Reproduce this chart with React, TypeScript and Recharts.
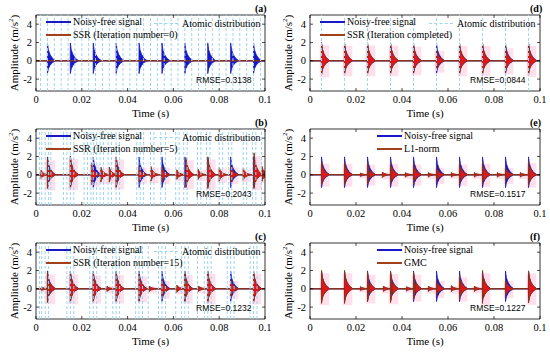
import React from 'react';
import { ComposedChart, Area, XAxis, YAxis, ReferenceLine, ReferenceArea } from 'recharts';

// ---------- axes ----------
const X_TICKS = [0, 0.02, 0.04, 0.06, 0.08, 0.1];
const X_TICK_LABELS = ['0', '0.02', '0.04', '0.06', '0.08', '0.1'];
const Y_TICKS = [-2, 0, 2, 4];
const Y_TICK_LABELS = ['-2', '0', '2', '4'];
const X_DOMAIN: [number, number] = [0, 0.1];
const Y_DOMAIN: [number, number] = [-3.3, 5];

// ---------- noise-free impulse train (onset time, positive peak, negative peak) ----------
const cleanTimes = [0.005, 0.015, 0.025, 0.035, 0.045, 0.055, 0.065, 0.075, 0.085, 0.095];
const cleanPos = [1.95, 1.95, 1.95, 1.95, 1.95, 1.95, 1.95, 1.95, 1.95, 1.95];
const cleanNeg = [-1.4, -1.4, -1.4, -1.4, -1.4, -1.4, -1.4, -1.4, -1.4, -1.4];

// ---------- (a) SSR, iteration 0: nothing recovered ----------
const ssrATimes: number[] = [];
const ssrAPos: number[] = [];
const ssrANeg: number[] = [];

// ---------- (b) SSR, iteration 5 ----------
const ssrBTimes = [0.0022, 0.005, 0.015, 0.0242, 0.0283, 0.032, 0.035, 0.045, 0.0502, 0.055, 0.0615, 0.0655, 0.0708, 0.075, 0.08, 0.085, 0.0905, 0.0952, 0.0988];
const ssrBPos = [0.5, 1.85, 2.05, 1.3, 0.85, 0.85, 1.95, 0.9, 0.9, 0.9, 0.55, 1.85, 0.6, 1.95, 0.8, 0.95, 0.7, 2.4, 0.9];
const ssrBNeg = [-0.4, -1.5, -1.5, -1.1, -0.8, -0.8, -1.4, -0.8, -0.7, -0.8, -0.5, -1.4, -0.5, -1.5, -0.7, -0.8, -0.6, -1.5, -0.7];

// ---------- (c) SSR, iteration 15 ----------
const ssrCTimes = [0.0025, 0.005, 0.015, 0.025, 0.031, 0.035, 0.045, 0.0495, 0.055, 0.0615, 0.065, 0.071, 0.075, 0.085, 0.095];
const ssrCPos = [0.2, 1.85, 1.85, 1.7, 0.3, 1.8, 1.6, 0.3, 1.0, 0.4, 1.75, 0.3, 1.9, 1.0, 1.9];
const ssrCNeg = [-0.2, -1.5, -1.5, -1.4, -0.3, -1.4, -1.3, -0.3, -0.9, -0.4, -1.4, -0.3, -1.5, -0.9, -1.5];

// ---------- (d) SSR, completed ----------
const ssrDTimes = [0.005, 0.015, 0.025, 0.035, 0.045, 0.055, 0.065, 0.075, 0.085, 0.095];
const ssrDPos = [2.0, 1.95, 1.95, 1.95, 1.8, 1.3, 1.9, 1.95, 1.6, 1.95];
const ssrDNeg = [-1.6, -1.5, -1.5, -1.5, -1.4, -1.1, -1.5, -1.5, -1.3, -1.55];

// ---------- (e) L1-norm ----------
const l1Times = [0.005, 0.015, 0.022, 0.025, 0.0315, 0.035, 0.0415, 0.045, 0.0515, 0.055, 0.0615, 0.065, 0.0715, 0.075, 0.0815, 0.085, 0.0915, 0.095];
const l1Pos = [1.4, 1.4, 0.2, 1.3, 0.3, 1.4, 0.25, 1.3, 0.25, 0.9, 0.25, 1.3, 0.25, 1.4, 0.25, 0.9, 0.25, 1.5];
const l1Neg = [-1.1, -1.1, -0.2, -1.0, -0.3, -1.1, -0.25, -1.0, -0.25, -0.8, -0.25, -1.0, -0.25, -1.1, -0.25, -0.8, -0.25, -1.2];

// ---------- (f) GMC ----------
const gmcTimes = [0.005, 0.015, 0.022, 0.025, 0.032, 0.035, 0.042, 0.045, 0.0515, 0.055, 0.0615, 0.065, 0.0715, 0.075, 0.085, 0.095];
const gmcPos = [2.0, 2.0, 0.25, 1.8, 0.3, 1.9, 0.25, 1.8, 0.3, 1.0, 0.35, 1.5, 0.3, 2.0, 1.0, 1.95];
const gmcNeg = [-1.6, -1.6, -0.2, -1.4, -0.3, -1.5, -0.25, -1.2, -0.3, -0.8, -0.3, -1.2, -0.3, -1.6, -0.8, -1.55];

// ---------- atomic distributions (positions of atoms) ----------
const atomsA = [0.002, 0.005, 0.008, 0.011, 0.014, 0.017, 0.02, 0.023, 0.026, 0.029, 0.032, 0.035, 0.038, 0.041, 0.044, 0.047, 0.05, 0.053, 0.056, 0.059, 0.062, 0.065, 0.068, 0.071, 0.074, 0.077, 0.08, 0.083, 0.086, 0.089, 0.092, 0.095, 0.098];
const atomsB = [0.0015, 0.0025, 0.004, 0.0055, 0.0065, 0.012, 0.0135, 0.015, 0.0165, 0.021, 0.0225, 0.024, 0.025, 0.0265, 0.028, 0.0295, 0.0315, 0.033, 0.035, 0.0365, 0.044, 0.0455, 0.047, 0.05, 0.0515, 0.0545, 0.0565, 0.061, 0.0625, 0.0645, 0.066, 0.0705, 0.072, 0.0745, 0.076, 0.08, 0.0815, 0.084, 0.0855, 0.0905, 0.092, 0.0945, 0.096, 0.0985];
const atomsC = [0.0015, 0.0025, 0.004, 0.0055, 0.0135, 0.015, 0.0165, 0.0235, 0.025, 0.0265, 0.0305, 0.0335, 0.035, 0.0365, 0.0435, 0.045, 0.0465, 0.049, 0.0535, 0.055, 0.0565, 0.061, 0.0635, 0.065, 0.0665, 0.0705, 0.0735, 0.075, 0.0765, 0.0835, 0.085, 0.0865, 0.0935, 0.095, 0.0965];
const atomsD = [0.005, 0.015, 0.025, 0.035, 0.045, 0.055, 0.065, 0.075, 0.085, 0.095];
const atomsNone: number[] = [];

// ---------- labels ----------
const panelLabels = ['(a)', '(b)', '(c)', '(d)', '(e)', '(f)'];
const seriesNames = ['SSR (Iteration number=0)', 'SSR (Iteration number=5)', 'SSR (Iteration number=15)', 'SSR (Iteration completed)', 'L1-norm', 'GMC'];
const rmseValues = ['0.3138', '0.2043', '0.1232', '0.0844', '0.1517', '0.1227'];

// ---------- styling ----------
const BLUE = '#1818c8';
const SSR_STROKE = '#8c3312';
const SSR_FILL = '#e3151c';
const LEGEND_SSR = '#a3401c';
const ATOM = '#9dd6f0';
const HALO = '#ffdce9';
const SERIF = '"Liberation Serif", "Times New Roman", serif';
const SANS = '"Liberation Sans", Arial, sans-serif';

// envelope template of one decaying impulse (time offset, relative amplitude)
const DECAY_DT = [0, 0.0004, 0.0011, 0.0021, 0.0036];
const DECAY_K = [1, 0.62, 0.36, 0.15, 0];

function buildWave(times: number[], pos: number[], neg: number[]) {
  const pts: { x: number; v: [number, number] }[] = [{ x: 0, v: [0, 0] }];
  times.forEach((t, i) => {
    pts.push({ x: t - 0.00004, v: [0, 0] });
    DECAY_DT.forEach((dt, j) => {
      pts.push({ x: t + dt, v: [neg[i] * DECAY_K[j], pos[i] * DECAY_K[j]] });
    });
  });
  pts.push({ x: 0.1, v: [0, 0] });
  pts.sort((a, b) => a.x - b.x);
  return pts;
}

const W = 275;
const H = 115;
const PT = 15;
const PB = 91;

type PanelProps = {
  left: number;
  top: number;
  idx: number;
  plotLeft: number;
  times: number[];
  pos: number[];
  neg: number[];
  atoms: number[];
  showAtomLegend: boolean;
  legendX: number;
};

function Panel({ left, top, idx, plotLeft, times, pos, neg, atoms, showAtomLegend, legendX }: PanelProps) {
  const plotRight = W - 10;
  const clean = buildWave(cleanTimes, cleanPos, cleanNeg);
  const ssr = buildWave(times, pos, neg);

  const XTick = (p: any) => {
    const i = X_TICKS.indexOf(p.payload.value);
    return (
      <g>
        <line x1={p.x} x2={p.x} y1={PB} y2={PB - 3} stroke="#000" strokeWidth={0.7} />
        <line x1={p.x} x2={p.x} y1={PT} y2={PT + 3} stroke="#000" strokeWidth={0.7} />
        <text x={p.x} y={PB + 4} dy="0.75em" textAnchor="middle" fontFamily={SERIF} fontSize={10.5} fill="#000">
          {X_TICK_LABELS[i]}
        </text>
      </g>
    );
  };
  const YTick = (p: any) => {
    const i = Y_TICKS.indexOf(p.payload.value);
    return (
      <g>
        <line x1={plotLeft} x2={plotLeft + 3} y1={p.y} y2={p.y} stroke="#000" strokeWidth={0.7} />
        <line x1={plotRight} x2={plotRight - 3} y1={p.y} y2={p.y} stroke="#000" strokeWidth={0.7} />
        <text x={plotLeft - 4} y={p.y} dy="0.35em" textAnchor="end" fontFamily={SERIF} fontSize={10.5} fill="#000">
          {Y_TICK_LABELS[i]}
        </text>
      </g>
    );
  };

  const textBase: React.CSSProperties = { position: 'absolute', whiteSpace: 'nowrap', fontFamily: SERIF, color: '#000', lineHeight: 1 };

  return (
    <div style={{ position: 'absolute', left, top, width: W, height: H }}>
      <ComposedChart width={W} height={H} margin={{ top: PT, right: 10, bottom: 0, left: 0 }}>
        <XAxis
          type="number"
          dataKey="x"
          domain={X_DOMAIN}
          ticks={X_TICKS}
          interval={0}
          allowDataOverflow
          height={H - PB}
          tickSize={0}
          tickMargin={4}
          axisLine={false}
          tickLine={false}
          tick={XTick}
        />
        <YAxis
          type="number"
          domain={Y_DOMAIN}
          ticks={Y_TICKS}
          interval={0}
          allowDataOverflow
          width={plotLeft}
          tickSize={0}
          tickMargin={4}
          axisLine={false}
          tickLine={false}
          tick={YTick}
        />
        {times.map((t, i) => (
          <ReferenceArea
            key={'h' + i}
            x1={Math.max(0, t - 0.0008)}
            x2={Math.min(0.1, t + 0.0034)}
            y1={neg[i] - 0.2}
            y2={pos[i] * 0.85}
            fill={HALO}
            fillOpacity={0.9}
            stroke="none"
            ifOverflow="hidden"
          />
        ))}
        {atoms.map((a, i) => (
          <ReferenceLine key={'at' + i} x={a} stroke={ATOM} strokeWidth={1} strokeDasharray="3 2" />
        ))}
        <Area
          data={clean}
          dataKey="v"
          type="linear"
          fill={BLUE}
          fillOpacity={1}
          stroke={BLUE}
          strokeWidth={0.8}
          dot={false}
          activeDot={false}
          isAnimationActive={false}
        />
        <Area
          data={ssr}
          dataKey="v"
          type="linear"
          fill={SSR_FILL}
          fillOpacity={1}
          stroke={SSR_STROKE}
          strokeWidth={1}
          dot={false}
          activeDot={false}
          isAnimationActive={false}
        />
        <ReferenceArea x1={0} x2={0.1} y1={Y_DOMAIN[0]} y2={Y_DOMAIN[1]} fill="none" stroke="#000" strokeWidth={0.8} fillOpacity={0} />
      </ComposedChart>

      {/* y label */}
      <div
        style={{
          ...textBase,
          left: plotLeft - 22,
          top: (PT + PB) / 2,
          fontSize: 11,
          transform: 'translate(-50%, -50%) rotate(-90deg)',
        }}
      >
        Amplitude (m/s<sup style={{ fontSize: 7, verticalAlign: 'super', lineHeight: 0 }}>2</sup>)
      </div>
      {/* x label */}
      <div style={{ ...textBase, left: (plotLeft + plotRight) / 2, top: 113, fontSize: 11, transform: 'translate(-50%, -50%)' }}>
        Time (s)
      </div>
      {/* panel label */}
      <div style={{ ...textBase, left: plotRight - 10, top: 4, fontSize: 10, fontWeight: 'bold' }}>{panelLabels[idx]}</div>

      {/* legend */}
      <div style={{ position: 'absolute', left: legendX, top: 20.5, width: 25, height: 2, background: BLUE }} />
      <div style={{ ...textBase, left: legendX + 27, top: 21.5, fontSize: 10, transform: 'translateY(-50%)' }}>Noisy-free signal</div>
      <div style={{ position: 'absolute', left: legendX, top: 33.5, width: 25, height: 2, background: LEGEND_SSR }} />
      <div style={{ ...textBase, left: legendX + 27, top: 34.5, fontSize: 10, transform: 'translateY(-50%)' }}>{seriesNames[idx]}</div>
      {showAtomLegend && (
        <>
          <div style={{ position: 'absolute', left: 154, top: 23, width: 24, height: 0, borderTop: `1px dashed ${ATOM}` }} />
          <div style={{ ...textBase, left: 182, top: 23.5, fontSize: 10, transform: 'translateY(-50%)' }}>Atomic distribution</div>
        </>
      )}
      {/* RMSE */}
      <div style={{ ...textBase, fontFamily: SANS, left: plotLeft + 160, top: 80, fontSize: 8.5, transform: 'translateY(-50%)' }}>
        RMSE={rmseValues[idx]}
      </div>
    </div>
  );
}

export default function App() {
  return (
    <div style={{ position: 'absolute', left: 0, top: 0, width: 550, height: 352, background: '#fff', overflow: 'hidden' }}>
      <Panel left={0} top={0} idx={0} plotLeft={36} times={ssrATimes} pos={ssrAPos} neg={ssrANeg} atoms={atomsA} showAtomLegend legendX={46} />
      <Panel left={0} top={114} idx={1} plotLeft={36} times={ssrBTimes} pos={ssrBPos} neg={ssrBNeg} atoms={atomsB} showAtomLegend legendX={46} />
      <Panel left={0} top={228} idx={2} plotLeft={36} times={ssrCTimes} pos={ssrCPos} neg={ssrCNeg} atoms={atomsC} showAtomLegend legendX={46} />
      <Panel left={275} top={0} idx={3} plotLeft={35} times={ssrDTimes} pos={ssrDPos} neg={ssrDNeg} atoms={atomsD} showAtomLegend legendX={45} />
      <Panel left={275} top={114} idx={4} plotLeft={35} times={l1Times} pos={l1Pos} neg={l1Neg} atoms={atomsNone} showAtomLegend={false} legendX={102} />
      <Panel left={275} top={228} idx={5} plotLeft={35} times={gmcTimes} pos={gmcPos} neg={gmcNeg} atoms={atomsNone} showAtomLegend={false} legendX={102} />
    </div>
  );
}
